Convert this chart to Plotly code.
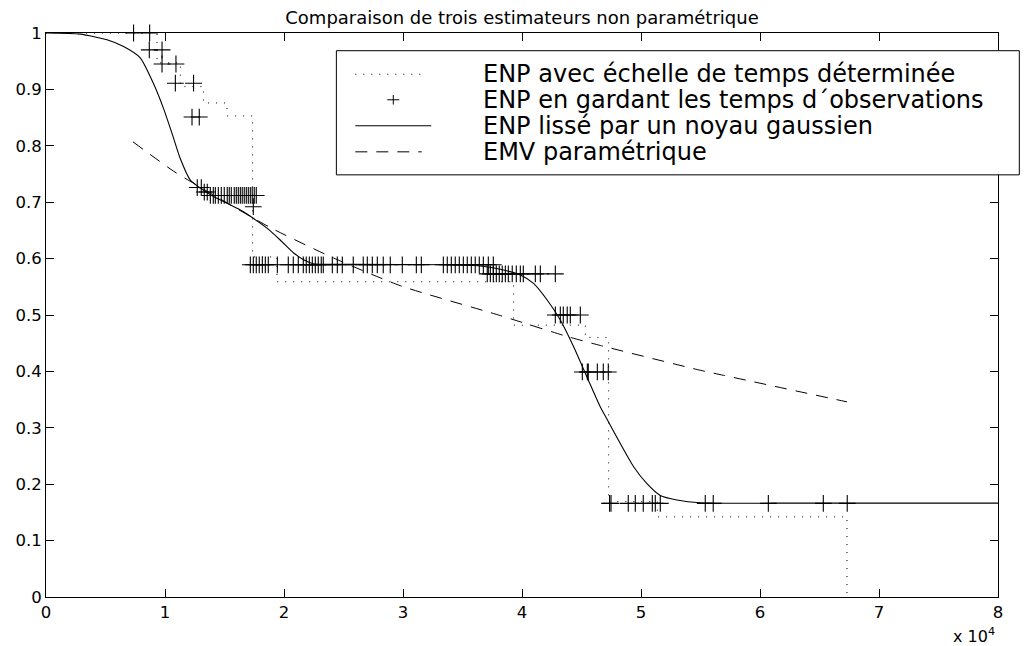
import plotly.graph_objects as go

# ---------------- data ----------------
# ENP avec échelle de temps déterminée (step function)
step_t = [0, 9330, 11290, 13240, 15210, 17360, 19410, 39290, 45320, 47280, 51370, 67310]
step_s = [1.0, 0.947, 0.905, 0.876, 0.853, 0.603, 0.559, 0.482, 0.460, 0.169, 0.142, 0.0]

# ENP en gardant les temps d'observations (markers), grouped by level
km_levels = [1.0, 0.970, 0.945, 0.911, 0.851, 0.726, 0.718, 0.712, 0.692,
             0.589, 0.573, 0.500, 0.399, 0.166]
km_times = [
    [7360, 8710],
    [8680, 9750],
    [9750, 10920],
    [10870, 12400],
    [12270, 12880],
    [12710, 13050],
    [13300, 13550],
    [13810, 14060, 14230, 14480, 14730, 14980, 15230, 15400, 15570, 15820, 15990,
     16160, 16330, 16490, 16660, 16830, 17000, 17170, 17330, 17500, 17670],
    [17420],
    [17170, 17420, 17670, 17920, 18180, 18430, 18680, 19440, 20360, 20780, 21200,
     21620, 21870, 22130, 22380, 22630, 22880, 23130, 23300, 24060, 24480, 24900,
     25820, 26660, 27000, 27420, 27840, 28340, 28930, 29940, 31120, 31540, 33390,
     33720, 34060, 34390, 34730, 35070, 35400, 35740, 36070, 36410, 36750, 37170, 37590],
    [37080, 37340, 37590, 37840, 38090, 38340, 38600, 38850, 39180, 39520, 39860,
     40110, 41120, 41540, 42800],
    [42800, 43220, 43470, 43800, 44060, 44900],
    [45070, 45490, 45570, 46330, 46830, 47250],
    [47360, 47480, 48930, 49520, 50190, 50950, 51200, 51620, 55400, 56070, 60700,
     65320, 67330],
]

# ENP lissé par un noyau gaussien
kern_t = [0, 2880, 5130, 6520, 7920, 9040, 9880, 10590, 11290, 12130, 12970, 14080,
          16330, 17450, 18570, 19680, 20810, 21650, 22460, 25570, 33970, 36490, 38180,
          39860, 40970, 42100, 43220, 44330, 45460, 46580, 47080, 48260, 49380, 50500,
          51620, 53020, 54980, 63390, 80000]
kern_s = [1.0, 0.998, 0.988, 0.976, 0.956, 0.910, 0.866, 0.822, 0.777, 0.739, 0.725,
          0.710, 0.686, 0.671, 0.654, 0.633, 0.610, 0.598, 0.591, 0.590, 0.589, 0.587,
          0.581, 0.571, 0.556, 0.527, 0.491, 0.444, 0.390, 0.337, 0.318, 0.272, 0.231,
          0.201, 0.180, 0.172, 0.167, 0.1665, 0.1665]

# EMV paramétrique
emv_t = [7310, 10720, 12690, 18850, 24170, 29770, 38180, 43780, 46580, 54980, 56940, 67310]
emv_s = [0.807, 0.755, 0.730, 0.655, 0.601, 0.552, 0.499, 0.462, 0.446, 0.402, 0.393, 0.346]

x_tick_vals = [0, 10000, 20000, 30000, 40000, 50000, 60000, 70000, 80000]
x_tick_text = ["0", "1", "2", "3", "4", "5", "6", "7", "8"]
y_tick_vals = [0, 0.1, 0.2, 0.3, 0.4, 0.5, 0.6, 0.7, 0.8, 0.9, 1.0]
y_tick_text = ["0", "0.1", "0.2", "0.3", "0.4", "0.5", "0.6", "0.7", "0.8", "0.9", "1"]

legend_labels = ["ENP avec échelle de temps déterminée",
                 "ENP en gardant les temps d\u00b4observations",
                 "ENP lissé par un noyau gaussien",
                 "EMV paramétrique"]
title_text = "Comparaison de trois estimateurs non paramétrique"

FONT = "DejaVu Sans"

# ---------------- figure ----------------
km_x, km_y = [], []
for lvl, ts in zip(km_levels, km_times):
    km_x.extend(ts)
    km_y.extend([lvl] * len(ts))

fig = go.Figure()
fig.add_trace(go.Scatter(x=step_t, y=step_s, mode="lines", line_shape="hv",
                         line=dict(color="black", width=1, dash="1px,7px"),
                         name=legend_labels[0], showlegend=False))
fig.add_trace(go.Scatter(x=km_x, y=km_y, mode="markers", cliponaxis=False,
                         marker=dict(symbol="cross-thin", size=12, color="black",
                                     line=dict(width=1.1, color="black")),
                         name=legend_labels[1], showlegend=False))
fig.add_trace(go.Scatter(x=kern_t, y=kern_s, mode="lines", line_shape="spline",
                         line=dict(color="black", width=1.1, smoothing=0.6),
                         name=legend_labels[2], showlegend=False))
fig.add_trace(go.Scatter(x=emv_t, y=emv_s, mode="lines", line_shape="spline",
                         line=dict(color="black", width=1, dash="12px,9px", smoothing=0.6),
                         name=legend_labels[3], showlegend=False))

# manual legend (paper coordinates)
box_x0, box_x1, box_y0, box_y1 = 0.305, 1.0224, 0.7485, 0.9686
row_y = [0.9269, 0.8816, 0.8355, 0.7893]
samp_x0, samp_x1, plus_x = 0.3249, 0.4047, 0.3648
text_x = 0.4565

shapes = [dict(type="rect", xref="paper", yref="paper", x0=box_x0, x1=box_x1,
               y0=box_y0, y1=box_y1, line=dict(color="black", width=1),
               fillcolor="white", layer="above")]
shapes.append(dict(type="line", xref="paper", yref="paper", x0=samp_x0, x1=samp_x1 - 0.007,
                   y0=row_y[0], y1=row_y[0], line=dict(color="black", width=1, dash="1px,7px"),
                   layer="above"))
shapes.append(dict(type="line", xref="paper", yref="paper", x0=plus_x - 0.0063, x1=plus_x + 0.0063,
                   y0=row_y[1], y1=row_y[1], line=dict(color="black", width=1), layer="above"))
shapes.append(dict(type="line", xref="paper", yref="paper", x0=plus_x, x1=plus_x,
                   y0=row_y[1] - 0.0085, y1=row_y[1] + 0.0085, line=dict(color="black", width=1),
                   layer="above"))
shapes.append(dict(type="line", xref="paper", yref="paper", x0=samp_x0, x1=samp_x1,
                   y0=row_y[2], y1=row_y[2], line=dict(color="black", width=1), layer="above"))
shapes.append(dict(type="line", xref="paper", yref="paper", x0=samp_x0, x1=samp_x1 - 0.01,
                   y0=row_y[3], y1=row_y[3], line=dict(color="black", width=1, dash="12px,9px"),
                   layer="above"))

annotations = []
for lbl, ry in zip(legend_labels, row_y):
    annotations.append(dict(text=lbl, xref="paper", yref="paper", x=text_x, y=ry,
                            xanchor="left", yanchor="middle", showarrow=False,
                            font=dict(family=FONT, size=24, color="black")))
annotations.append(dict(text="x 10<sup>4</sup>", xref="paper", yref="paper",
                        x=0.9985, y=-0.068, xanchor="right", yanchor="middle",
                        showarrow=False, font=dict(family=FONT, size=16, color="black")))

axis_common = dict(showline=True, linecolor="black", linewidth=1, mirror="ticks",
                   ticks="inside", ticklen=8, tickcolor="black", tickwidth=1,
                   showgrid=False, zeroline=False, automargin=False,
                   tickfont=dict(family=FONT, size=16.5, color="black"))

# the page body adds an 8px offset; margins below compensate for it
fig.update_layout(
    width=1034, height=646,
    margin=dict(l=37.7, r=44.3, t=25.3, b=57.3),
    paper_bgcolor="white", plot_bgcolor="white",
    title=dict(text=title_text, x=0.5, xref="paper", xanchor="center",
               y=1.0, yref="container", yanchor="top", pad=dict(t=3, b=0),
               font=dict(family=FONT, size=18, color="black")),
    xaxis=dict(range=[0, 80000], tickvals=x_tick_vals, ticktext=x_tick_text, **axis_common),
    yaxis=dict(range=[0, 1], tickvals=y_tick_vals, ticktext=y_tick_text, **axis_common),
    shapes=shapes, annotations=annotations, showlegend=False,
)

fig.write_html("out.html")
